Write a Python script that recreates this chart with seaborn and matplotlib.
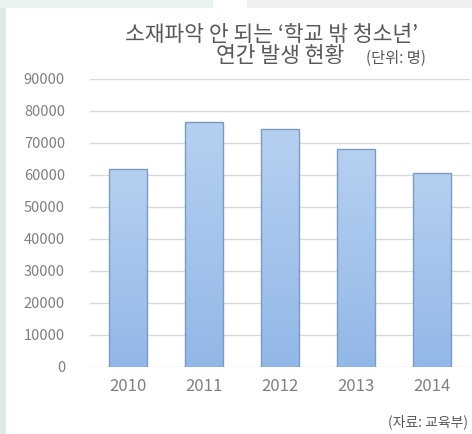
import matplotlib
matplotlib.use("Agg")
import matplotlib.pyplot as plt
import numpy as np
import pandas as pd
import seaborn as sns
from matplotlib.patches import Rectangle

# values
years = ["2010", "2011", "2012", "2013", "2014"]
counts = [61900, 76500, 74300, 68200, 60500]
y_ticks = [0, 10000, 20000, 30000, 40000, 50000, 60000, 70000, 80000, 90000]

title_1 = "소재파악 안 되는 ‘학교 밖 청소년’"
title_2 = "연간 발생 현황"
unit_text = "(단위: 명)"
source_text = "(자료: 교육부)"

df = pd.DataFrame({"year": years, "count": counts})

sns.set_style("white")
plt.rcParams["font.family"] = ["Noto Sans CJK KR", "DejaVu Sans"]

fig = plt.figure(figsize=(4.72, 4.34), dpi=100)
fig.patch.set_facecolor("white")

# greenish frame on the left / top like the screenshot
fig.patches.append(Rectangle((0, 0), 6 / 472, 1, transform=fig.transFigure,
                             facecolor="#dcebe2", edgecolor="none", zorder=0))
fig.patches.append(Rectangle((0, 1 - 8 / 434), 213 / 472, 8 / 434, transform=fig.transFigure,
                             facecolor="#e9f3ed", edgecolor="none", zorder=0))
fig.patches.append(Rectangle((247 / 472, 1 - 8 / 434), 225 / 472, 8 / 434, transform=fig.transFigure,
                             facecolor="#f0f0f0", edgecolor="none", zorder=0))

ax = fig.add_axes([90 / 472, 67 / 434, 380 / 472, 288 / 434])
sns.barplot(data=df, x="year", y="count", ax=ax, color="#a3c4ec",
            width=0.5, edgecolor="#7b9cc2", linewidth=1.0, saturation=1)

# vertical gradient inside the bars
grad = np.linspace(0, 1, 256).reshape(-1, 1)
cmap = matplotlib.colors.LinearSegmentedColormap.from_list("bar", ["#92b8e7", "#b6d0f1"])
for p in ax.patches:
    x0, w, h = p.get_x(), p.get_width(), p.get_height()
    im = ax.imshow(grad, extent=[x0, x0 + w, 0, h], origin="lower", aspect="auto",
                   cmap=cmap, zorder=p.get_zorder() - 0.1)
    im.set_clip_path(p)
    p.set_facecolor("none")

ax.set_xlim(-0.5, 4.5)
ax.set_ylim(0, 90000)
ax.set_yticks(y_ticks)
ax.set_yticklabels([str(v) for v in y_ticks])
ax.yaxis.grid(True, color="#d9d9d9", linewidth=1)
ax.set_axisbelow(True)
for s in ax.spines.values():
    s.set_visible(False)
ax.tick_params(axis="y", length=0, pad=18, labelsize=10.5, labelcolor="#808080")
ax.tick_params(axis="x", length=0, pad=8, labelsize=12, labelcolor="#808080")
ax.set_xlabel("")
ax.set_ylabel("")

fig.text(272 / 472, 1 - 35 / 434, title_1, ha="center", va="center",
         fontsize=15.5, color="#595959")
fig.text(280 / 472, 1 - 56 / 434, title_2, ha="center", va="center",
         fontsize=15.5, color="#595959")
fig.text(396 / 472, 1 - 58 / 434, unit_text, ha="center", va="center",
         fontsize=11, color="#595959")
fig.text(468 / 472, 1 - 422 / 434, source_text, ha="right", va="center",
         fontsize=10, color="#595959")

fig.savefig("out.png", dpi=100)
